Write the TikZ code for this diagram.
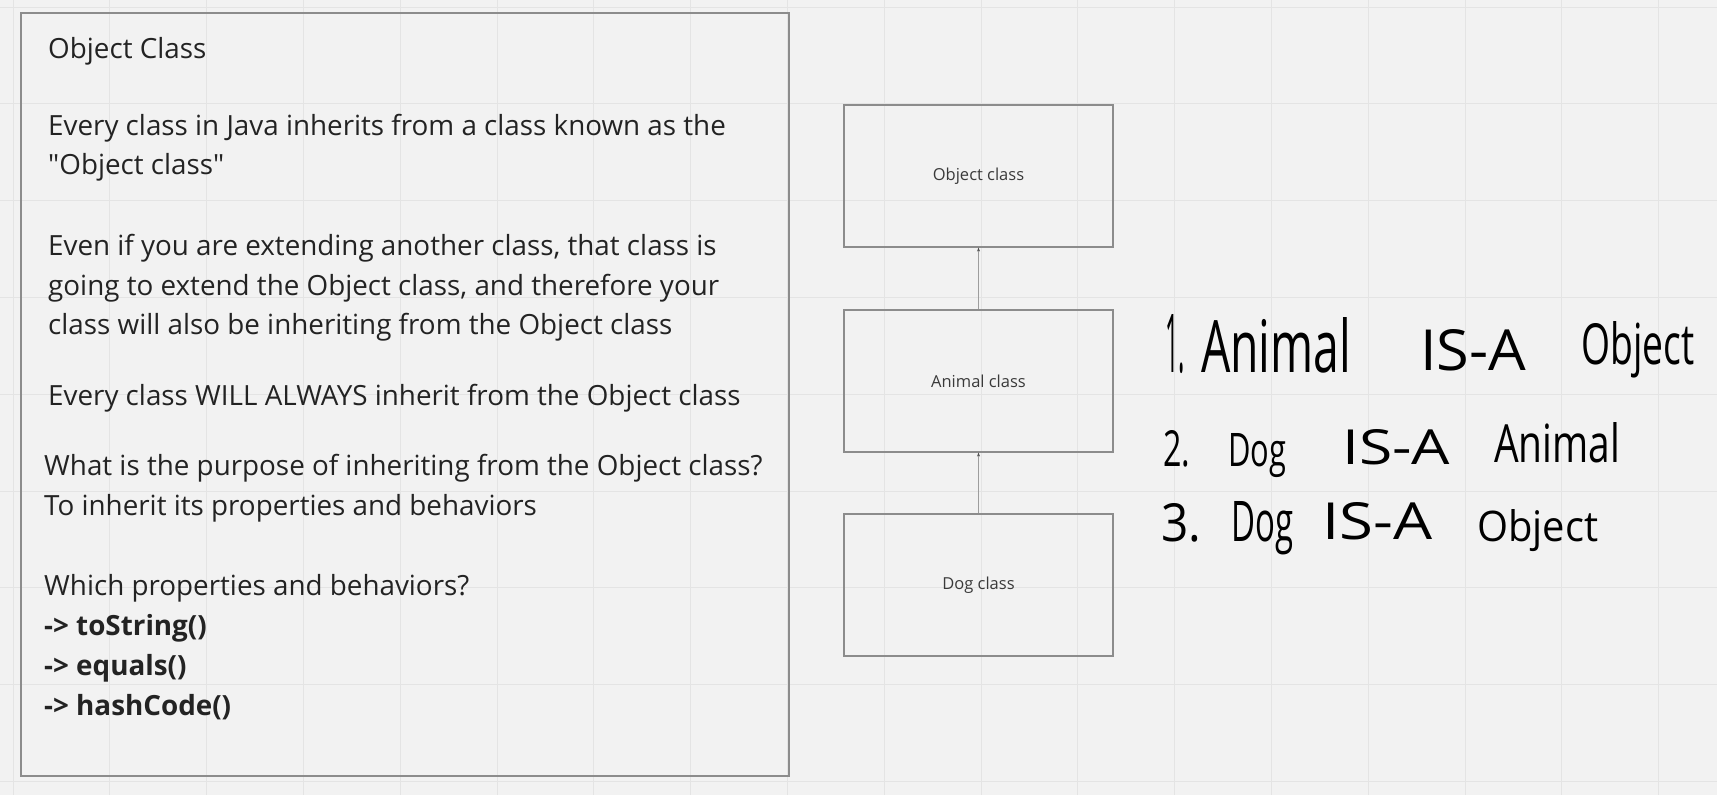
\documentclass[tikz,border=0pt]{standalone}
\usepackage{fontspec}
\setmainfont{Open Sans}
\newfontfamily\rawos{Open Sans}
\usetikzlibrary{arrows.meta}
\definecolor{bg}{HTML}{F2F2F2}
\definecolor{gridc}{HTML}{E4E4E4}
\definecolor{boxc}{HTML}{8C8C8C}
\definecolor{txt}{HTML}{232323}
\definecolor{lbl}{HTML}{3A3A3A}
\newcommand{\hw}[3]{\resizebox{#1pt}{#2pt}{#3}}
\newcommand{\sq}{{\rawos"}}
\begin{document}
\begin{tikzpicture}[x=1pt,y=-1pt,
  txtline/.style={anchor=base west, inner sep=0pt, text=txt, font=\fontsize{27.8}{32}\selectfont},
  boldline/.style={txtline, font=\fontsize{27.8}{32}\selectfont\bfseries},
  clsbox/.style={draw=boxc, line width=1.2pt, minimum width=269pt, minimum height=142pt, inner sep=0pt, text=lbl, font=\fontsize{16.5}{20}\selectfont},
  hand/.style={anchor=base west, inner sep=0pt, text=black},
  inh/.style={draw=boxc!85, line width=0.9pt, -{Stealth[length=4pt,width=3pt,black!70]}}]
\fill[bg] (0,0) rectangle (1717,795);
\useasboundingbox (0,0) rectangle (1717,795);
\foreach \k in {0,...,17} {
  \draw[gridc, line width=1pt] ({13+96.8*\k},0) -- ({13+96.8*\k},795);
}
\foreach \k in {0,...,8} {
  \draw[gridc, line width=1pt] (0,{7+96.8*\k}) -- (1717,{7+96.8*\k});
}
% left text box
\draw[boxc, line width=1.2pt] (21,13) rectangle (789,776);
\node[txtline] (t1) at (48,58) {Object Class};
\node[txtline] (t2) at (48,135) {Every class in Java inherits from a class known as the};
\node[txtline] (t3) at (48,174) {\sq Object class\sq};
\node[txtline] (t4) at (48,255) {Even if you are extending another class, that class is};
\node[txtline] (t5) at (48,295) {going to extend the Object class, and therefore your};
\node[txtline] (t6) at (48,334) {class will also be inheriting from the Object class};
\node[txtline] (t7) at (48,405) {Every class WILL ALWAYS inherit from the Object class};
\node[txtline] (t8) at (44,475) {What is the purpose of inheriting from the Object class?};
\node[txtline] (t9) at (44,515) {To inherit its properties and behaviors};
\node[txtline] (t10) at (44,595) {Which properties and behaviors?};
\node[boldline] (t11) at (44,635) {-> toString()};
\node[boldline] (t12) at (44,675) {-> equals()};
\node[boldline] (t13) at (44,715) {-> hashCode()};
% class boxes
\node[clsbox] (obj) at (978.5,176) {Object class};
\node[clsbox] (ani) at (978.5,381) {Animal class};
\node[clsbox] (dog) at (978.5,585) {Dog class};
\draw[inh] (ani.north) -- (obj.south);
\draw[inh] (dog.north) -- (ani.south);
% handwritten notes
\node[hand] (h11) at (1165,372) {\hw{20}{58}{1.}};
\node[hand] (h12) at (1201,372) {\hw{150}{55}{Animal}};
\node[hand] (h13) at (1420,370) {\hw{106}{41}{IS-A}};
\node[hand] (h14) at (1581,364) {\hw{113}{43}{Object}};
\node[hand] (h21) at (1163,466) {\hw{27}{36}{2.}};
\node[hand] (h22) at (1228,466) {\hw{58}{33}{Dog}};
\node[hand] (h23) at (1342,464) {\hw{108}{35}{IS-A}};
\node[hand] (h24) at (1494,462) {\hw{126}{40}{Animal}};
\node[hand] (h31) at (1161,541) {\hw{40}{38}{3.}};
\node[hand] (h32) at (1231,541) {\hw{62}{40}{Dog}};
\node[hand] (h33) at (1322,539) {\hw{110}{37}{IS-A}};
\node[hand] (h34) at (1477,541) {\hw{121}{32}{Object}};
\end{tikzpicture}
\end{document}
